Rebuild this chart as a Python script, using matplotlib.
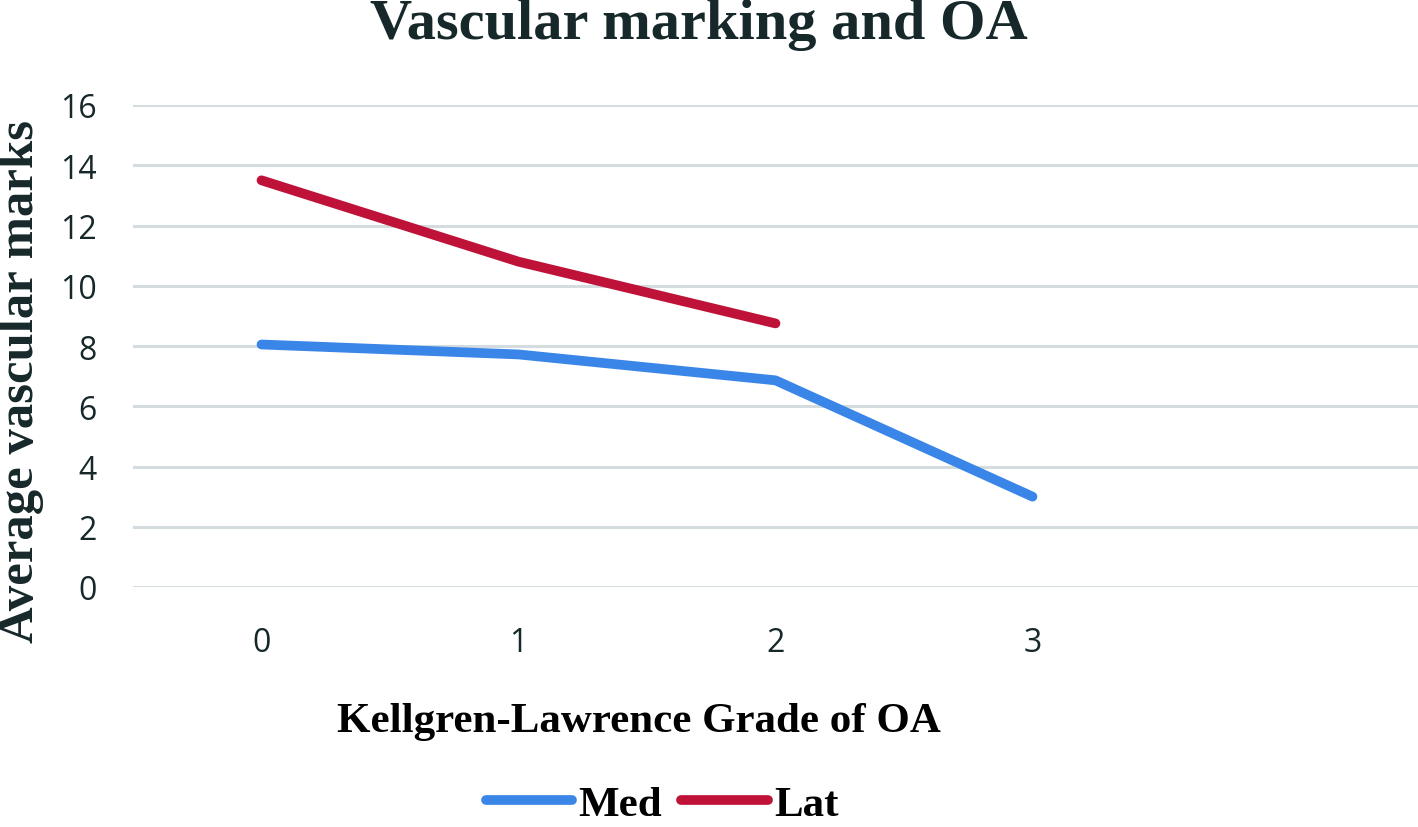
import matplotlib
matplotlib.use("Agg")
import matplotlib.pyplot as plt
from matplotlib.lines import Line2D

categories = ["0", "1", "2", "3", ""]
med = [8.05, 7.72, 6.86, 3.0]
lat = [13.5, 10.8, 8.75]
yticks = [0, 2, 4, 6, 8, 10, 12, 14, 16]

title = "Vascular marking and OA"
xlabel = "Kellgren-Lawrence Grade of OA"
ylabel = "Average vascular marks"

blue = "#3A86E8"
red = "#BE1238"
grid = "#D5DCDF"
dark = "#17282A"

fig = plt.figure(figsize=(14.18, 8.28), dpi=100)
ax = fig.add_axes([133/1418, 1-588/828, 1-133/1418, (588-106)/828])

x = list(range(len(categories)))
ax.plot(x[:len(med)], med, color=blue, lw=7, solid_capstyle="round", solid_joinstyle="round", label="Med", zorder=3)
ax.plot(x[:len(lat)], lat, color=red, lw=7, solid_capstyle="round", solid_joinstyle="round", label="Lat", zorder=3)

ax.set_xlim(-0.5, len(categories) - 0.5)
ax.set_ylim(0, 16)
ax.set_xticks(x)
ax.set_xticklabels(categories)
ax.set_yticks(yticks)
ax.set_yticklabels([str(v) for v in yticks])
for s in ax.spines.values():
    s.set_visible(False)
ax.tick_params(length=0, labelsize=23, colors=dark, labelcolor=dark)
ax.tick_params(axis="x", pad=28)
ax.tick_params(axis="y", pad=26)
for lbl in ax.get_xticklabels() + ax.get_yticklabels():
    lbl.set_fontfamily("Open Sans")
ax.yaxis.grid(True, color=grid, lw=2.2, zorder=0)
ax.set_axisbelow(True)

fig.text(0.493, 1-39/828, title, ha="center", va="baseline", fontsize=42, fontweight="bold",
         family="Liberation Serif", color=dark)
fig.text(0.4506, 1-732/828, xlabel, ha="center", va="baseline", fontsize=31, fontweight="bold",
         family="Liberation Serif", color="black")
fig.text(0.015, 0.539, ylabel, ha="center", va="center", rotation=90, fontsize=36.5,
         fontweight="bold", family="Liberation Serif", color=dark)

handles = [Line2D([], [], color=blue, lw=7, solid_capstyle="round"),
           Line2D([], [], color=red, lw=7, solid_capstyle="round")]
leg = fig.legend(handles, ["Med", "Lat"], loc="lower center", bbox_to_anchor=(0.467, -0.043),
                 ncol=2, frameon=False, handlelength=2.0, handletextpad=0.15,
                 columnspacing=0.45, prop={"family": "Liberation Serif", "weight": "bold", "size": 31})

fig.savefig("out.png", dpi=100, facecolor="white")
